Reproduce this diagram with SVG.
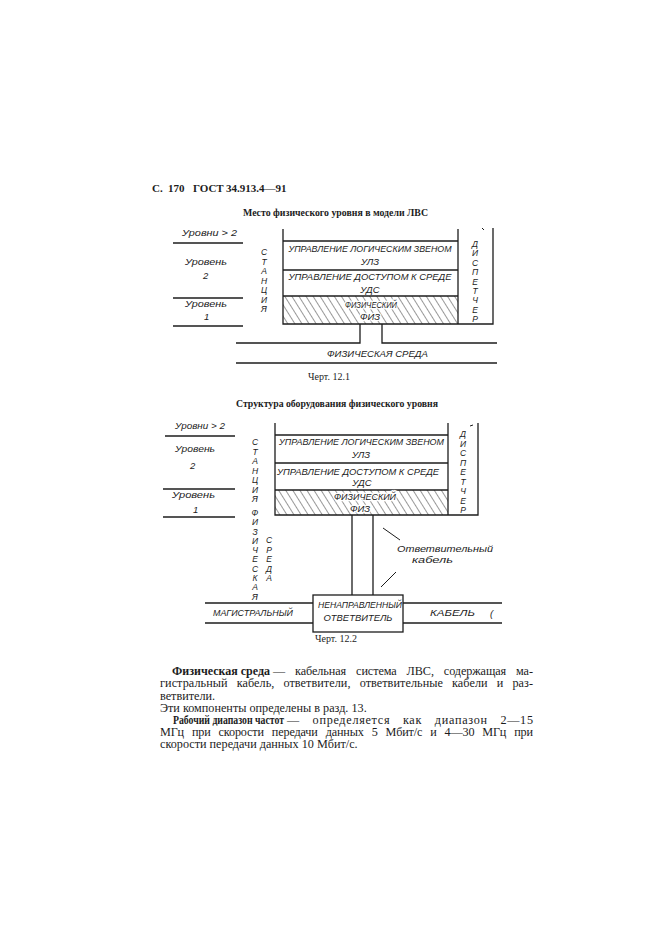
<svg xmlns="http://www.w3.org/2000/svg" width="661" height="935" viewBox="0 0 661 935">
<style>
.ln{stroke:#1c1c1c;stroke-width:1.3;fill:none}
.thin{stroke:#1c1c1c;stroke-width:1;fill:none}
.lab{font-family:"Liberation Sans",Arial,sans-serif;font-style:italic;font-size:9.5px;fill:#1c1c1c}
.vl{font-family:"Liberation Sans",Arial,sans-serif;font-style:italic;font-size:8.5px;fill:#1c1c1c;text-anchor:middle}
.mid{text-anchor:middle}
.halo{stroke:#fff;stroke-width:2.5;paint-order:stroke}
.ser{font-family:"Liberation Serif","Times New Roman",serif;fill:#1c1c1c}
.bold{font-weight:bold}
.body{font-family:"Liberation Serif","Times New Roman",serif;font-size:12.2px;fill:#1c1c1c}
.bb{font-family:"Liberation Serif","Times New Roman",serif;font-size:11.5px;font-weight:bold;fill:#1c1c1c}
</style>
<defs>
<pattern id="hatch" patternUnits="userSpaceOnUse" width="6" height="6" patternTransform="rotate(-32)">
<line x1="0" y1="-1" x2="0" y2="7" stroke="#1c1c1c" stroke-width="0.9"/>
</pattern>
</defs>
<rect width="661" height="935" fill="#fff"/>

<!-- header -->
<text class="ser bold" y="192" font-size="11"><tspan x="152">С.</tspan><tspan x="168">170</tspan><tspan x="193">ГОСТ</tspan><tspan x="226">34.913.4—91</tspan></text>

<!-- Chart 12.1 -->
<text class="ser bold" x="243" y="216" font-size="10" textLength="185" lengthAdjust="spacingAndGlyphs">Место физического уровня в модели ЛВС</text>

<g id="levels1">
<text class="lab" x="182" y="236" textLength="55" lengthAdjust="spacingAndGlyphs">Уровни &gt; 2</text>
<line class="ln" x1="173" y1="243" x2="243" y2="243"/>
<text class="lab" x="185" y="265" textLength="42" lengthAdjust="spacingAndGlyphs">Уровень</text>
<text class="lab" x="203" y="279">2</text>
<line class="ln" x1="173" y1="298" x2="243" y2="298"/>
<text class="lab" x="185" y="307" textLength="42" lengthAdjust="spacingAndGlyphs">Уровень</text>
<text class="lab" x="204" y="320">1</text>
<line class="ln" x1="173" y1="326" x2="243" y2="326"/>
</g>

<g id="station1">
<text class="vl"><tspan x="264" y="255">С</tspan><tspan x="264" y="264.5">Т</tspan><tspan x="264" y="274">А</tspan><tspan x="264" y="283.5">Н</tspan><tspan x="264" y="293">Ц</tspan><tspan x="264" y="302.5">И</tspan><tspan x="264" y="312">Я</tspan></text>
</g>

<g id="stack1">
<rect x="283" y="296" width="175" height="28" fill="url(#hatch)"/>
<polyline class="ln" points="283,229 283,324 493,324 493,228"/>
<line class="ln" x1="458" y1="229" x2="458" y2="324"/>
<line class="ln" x1="283" y1="241" x2="458" y2="241"/>
<line class="ln" x1="283" y1="270" x2="458" y2="270"/>
<line class="ln" x1="283" y1="296" x2="458" y2="296"/>
<line class="thin" x1="482" y1="228" x2="484" y2="230"/>
<text class="lab mid" x="370" y="252" textLength="163" lengthAdjust="spacingAndGlyphs">УПРАВЛЕНИЕ ЛОГИЧЕСКИМ ЗВЕНОМ</text>
<text class="lab mid" x="370" y="265">УЛЗ</text>
<text class="lab mid" x="370" y="280" textLength="163" lengthAdjust="spacingAndGlyphs">УПРАВЛЕНИЕ ДОСТУПОМ К СРЕДЕ</text>
<text class="lab mid" x="370" y="293">УДС</text>
<text class="lab mid halo" x="371" y="308" textLength="52" lengthAdjust="spacingAndGlyphs">ФИЗИЧЕСКИЙ</text>
<text class="lab mid halo" x="370" y="320">ФИЗ</text>
</g>

<g id="dispatcher1">
<text class="vl"><tspan x="475" y="247">Д</tspan><tspan x="475" y="256.4">И</tspan><tspan x="475" y="265.8">С</tspan><tspan x="475" y="275.2">П</tspan><tspan x="475" y="284.6">Е</tspan><tspan x="475" y="294">Т</tspan><tspan x="475" y="303.4">Ч</tspan><tspan x="475" y="312.8">Е</tspan><tspan x="475" y="322.2">Р</tspan></text>
</g>

<g id="medium1">
<text class="lab" x="327" y="357" textLength="101" lengthAdjust="spacingAndGlyphs">ФИЗИЧЕСКАЯ СРЕДА</text>
</g>

<g id="connectors1">
<polyline class="ln" points="236,343 360,343 360,324"/>
<polyline class="ln" points="382,324 382,343 497,343"/>
<line class="ln" x1="236" y1="363" x2="497" y2="363"/>
</g>

<text class="ser" x="308" y="380" font-size="10">Черт. 12.1</text>

<!-- Chart 12.2 -->
<text class="ser bold" x="236" y="407" font-size="10" textLength="202" lengthAdjust="spacingAndGlyphs">Структура оборудования физического уровня</text>

<g id="levels2">
<text class="lab" x="175" y="429" textLength="50" lengthAdjust="spacingAndGlyphs">Уровни &gt; 2</text>
<line class="ln" x1="165" y1="436" x2="235" y2="436"/>
<text class="lab" x="175" y="452" textLength="40" lengthAdjust="spacingAndGlyphs">Уровень</text>
<text class="lab" x="190" y="469">2</text>
<line class="ln" x1="163" y1="489" x2="235" y2="489"/>
<text class="lab" x="172" y="498" textLength="43" lengthAdjust="spacingAndGlyphs">Уровень</text>
<text class="lab" x="193" y="513">1</text>
<line class="ln" x1="163" y1="517" x2="235" y2="517"/>
</g>

<g id="station2">
<text class="vl"><tspan x="255" y="445">С</tspan><tspan x="255" y="454.5">Т</tspan><tspan x="255" y="464">А</tspan><tspan x="255" y="473.5">Н</tspan><tspan x="255" y="483">Ц</tspan><tspan x="255" y="492.5">И</tspan><tspan x="255" y="502">Я</tspan></text>
</g>

<g id="physmedium2">
<text class="vl"><tspan x="255" y="516">Ф</tspan><tspan x="255" y="525">И</tspan><tspan x="255" y="534.5">З</tspan><tspan x="255" y="543.5">И</tspan><tspan x="255" y="552.5">Ч</tspan><tspan x="255" y="562">Е</tspan><tspan x="255" y="571.5">С</tspan><tspan x="255" y="580.5">К</tspan><tspan x="255" y="590">А</tspan><tspan x="255" y="600">Я</tspan></text>
<text class="vl"><tspan x="269" y="543">С</tspan><tspan x="269" y="552.5">Р</tspan><tspan x="269" y="562">Е</tspan><tspan x="269" y="571.5">Д</tspan><tspan x="269" y="581">А</tspan></text>
</g>

<g id="stack2">
<rect x="275" y="490" width="173" height="25" fill="url(#hatch)"/>
<polyline class="ln" points="275,423 275,515 478,515 478,423"/>
<line class="ln" x1="448" y1="423" x2="448" y2="515"/>
<line class="ln" x1="275" y1="435" x2="448" y2="435"/>
<line class="ln" x1="275" y1="463" x2="448" y2="463"/>
<line class="ln" x1="275" y1="490" x2="448" y2="490"/>
<line class="thin" x1="470" y1="426" x2="473" y2="425"/>
<text class="lab mid" x="361.5" y="445" textLength="165" lengthAdjust="spacingAndGlyphs">УПРАВЛЕНИЕ ЛОГИЧЕСКИМ ЗВЕНОМ</text>
<text class="lab mid" x="361" y="458">УЛЗ</text>
<text class="lab mid" x="358" y="475" textLength="162" lengthAdjust="spacingAndGlyphs">УПРАВЛЕНИЕ ДОСТУПОМ К СРЕДЕ</text>
<text class="lab mid" x="362" y="486">УДС</text>
<text class="lab mid halo" x="365" y="500" font-size="8.5" textLength="62" lengthAdjust="spacingAndGlyphs">ФИЗИЧЕСКИЙ</text>
<text class="lab mid halo" x="360" y="512" font-size="8.5">ФИЗ</text>
</g>

<g id="dispatcher2">
<text class="vl"><tspan x="463" y="437">Д</tspan><tspan x="463" y="446.5">И</tspan><tspan x="463" y="456">С</tspan><tspan x="463" y="465.5">П</tspan><tspan x="463" y="475">Е</tspan><tspan x="463" y="484.5">Т</tspan><tspan x="463" y="494">Ч</tspan><tspan x="463" y="503.5">Е</tspan><tspan x="463" y="513">Р</tspan></text>
</g>

<g id="dropcable">
<text class="lab" x="397" y="552" textLength="96" lengthAdjust="spacingAndGlyphs">Ответвительный</text>
<text class="lab" x="412" y="563" textLength="41" lengthAdjust="spacingAndGlyphs">кабель</text>
</g>

<g id="coupler">
<rect class="ln" x="313" y="595" width="90" height="37"/>
<text class="lab mid" x="360" y="608" textLength="84" lengthAdjust="spacingAndGlyphs">НЕНАПРАВЛЕННЫЙ</text>
<text class="lab mid" x="358" y="621" textLength="69" lengthAdjust="spacingAndGlyphs">ОТВЕТВИТЕЛЬ</text>
</g>

<g id="trunk">
<text class="lab" x="213" y="616" textLength="80" lengthAdjust="spacingAndGlyphs">МАГИСТРАЛЬНЫЙ</text>
<text class="lab" x="430" y="616" textLength="45" lengthAdjust="spacingAndGlyphs">КАБЕЛЬ</text>
<text class="lab" x="490" y="617" font-size="8" fill="#555">(</text>
</g>

<g id="connectors2">
<line class="ln" x1="352" y1="515" x2="352" y2="595"/>
<line class="ln" x1="373" y1="515" x2="373" y2="595"/>
<line class="thin" x1="383" y1="528" x2="400" y2="540"/>
<line class="thin" x1="396" y1="572" x2="381" y2="587"/>
<line class="ln" x1="205" y1="603" x2="313" y2="603"/>
<line class="ln" x1="205" y1="623" x2="313" y2="623"/>
<line class="ln" x1="403" y1="603" x2="502" y2="603"/>
<line class="ln" x1="403" y1="623" x2="502" y2="623"/>
</g>

<text class="ser" x="315" y="642" font-size="10">Черт. 12.2</text>

<!-- body text -->
<text class="bb" x="172" y="675" textLength="98" lengthAdjust="spacingAndGlyphs">Физическая среда</text>
<text class="body" x="273" y="675" word-spacing="7" textLength="260" lengthAdjust="spacing">— кабельная система ЛВС, содержащая ма-</text>
<text class="body" x="160" y="687" word-spacing="6" textLength="373" lengthAdjust="spacing">гистральный кабель, ответвители, ответвительные кабели и раз-</text>
<text class="body" x="160" y="699.5">ветвители.</text>
<text class="body" x="160" y="711.5">Эти компоненты определены в разд. 13.</text>
<text class="bb" x="173" y="724" textLength="111" lengthAdjust="spacingAndGlyphs">Рабочий диапазон частот</text>
<text class="body" x="287" y="724" word-spacing="9" textLength="246" lengthAdjust="spacing">— определяется как диапазон 2—15</text>
<text class="body" x="160" y="736" word-spacing="5" textLength="373" lengthAdjust="spacing">МГц при скорости передачи данных 5 Мбит/с и 4—30 МГц при</text>
<text class="body" x="160" y="748">скорости передачи данных 10 Мбит/с.</text>
</svg>
